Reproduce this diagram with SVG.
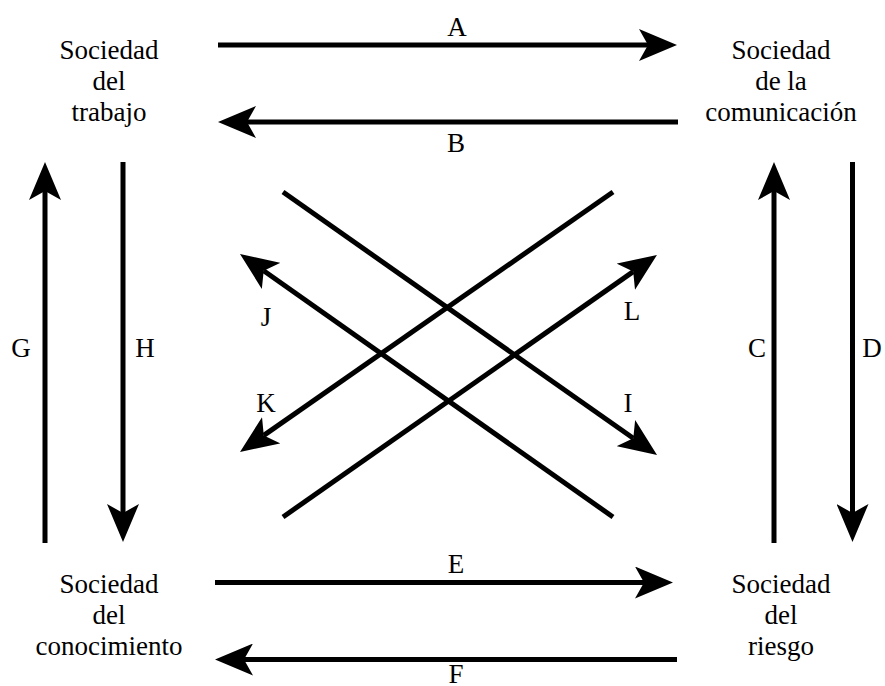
<svg xmlns="http://www.w3.org/2000/svg" width="885" height="686" viewBox="0 0 885 686">
<style>
text{font-family:'Liberation Serif','Times New Roman',serif;font-size:27px;text-anchor:middle;fill:#000}
.c{stroke:#000;stroke-width:5;fill:none;marker-end:url(#ah)}
</style>
<defs>
<marker id="ah" viewBox="0 0 38 32" refX="9" refY="16" markerWidth="38" markerHeight="32" markerUnits="userSpaceOnUse" orient="auto">
<path d="M38,16 L0,0 L9,16 L0,32 Z" fill="#000"/>
</marker>
</defs>
<rect width="885" height="686" fill="#fff"/>
<g id="trabajo">
<text x="109" y="59">Sociedad</text>
<text x="109" y="90">del</text>
<text x="109" y="121">trabajo</text>
</g>
<g id="comunicacion">
<text x="781" y="59">Sociedad</text>
<text x="781" y="90">de la</text>
<text x="781" y="121">comunicación</text>
</g>
<g id="conocimiento">
<text x="109" y="593">Sociedad</text>
<text x="109" y="624">del</text>
<text x="109" y="655">conocimiento</text>
</g>
<g id="riesgo">
<text x="781" y="593">Sociedad</text>
<text x="781" y="624">del</text>
<text x="781" y="655">riesgo</text>
</g>
<g id="connectors">
<path class="c" d="M218,45 H648"/>
<path class="c" d="M678,122 H247"/>
<path class="c" d="M215,582.5 H644"/>
<path class="c" d="M677,659.5 H244"/>
<path class="c" d="M45,543 V191"/>
<path class="c" d="M123,162 V513"/>
<path class="c" d="M774,543 V191"/>
<path class="c" d="M852.5,162 V513"/>
<path class="c" d="M283,192 L633.3,438.3"/>
<path class="c" d="M613,192 L263.8,435.4"/>
<path class="c" d="M613,517 L263.7,270.7"/>
<path class="c" d="M283,517 L633.2,271.6"/>
<text x="457" y="36">A</text>
<text x="456" y="152">B</text>
<text x="757" y="357">C</text>
<text x="872" y="357">D</text>
<text x="456" y="573">E</text>
<text x="456" y="683">F</text>
<text x="21" y="357">G</text>
<text x="145" y="357">H</text>
<text x="628" y="412">I</text>
<text x="266" y="326">J</text>
<text x="266" y="412">K</text>
<text x="632" y="320">L</text>
</g>
</svg>
